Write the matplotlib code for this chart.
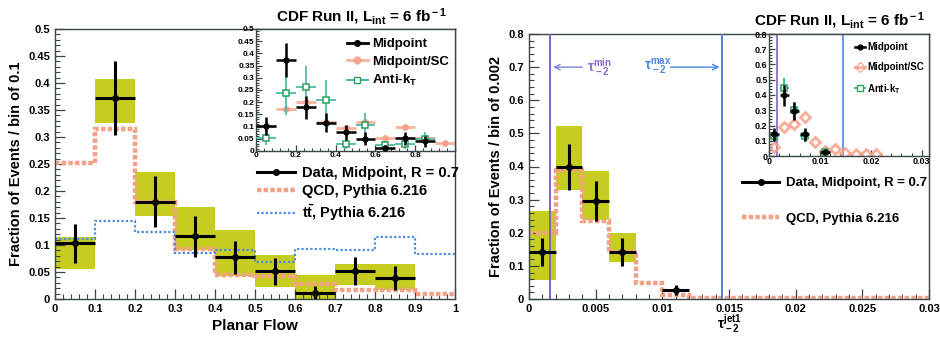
import numpy as np
import matplotlib
matplotlib.use('Agg')
import matplotlib.pyplot as plt
from matplotlib.ticker import MultipleLocator, FixedLocator, FuncFormatter
from matplotlib.lines import Line2D

plt.rcParams['font.family'] = ['Liberation Sans', 'DejaVu Sans']
plt.rcParams['font.weight'] = 'bold'
plt.rcParams['mathtext.fontset'] = 'custom'
plt.rcParams['mathtext.rm'] = 'Liberation Sans:bold'
plt.rcParams['mathtext.it'] = 'Liberation Sans:bold:italic'
plt.rcParams['mathtext.bf'] = 'Liberation Sans:bold'
plt.rcParams['mathtext.default'] = 'rm'

# ---------------- data: planar flow (left) ----------------
pf_edges = [0.0, 0.1, 0.2, 0.3, 0.4, 0.5, 0.6, 0.7, 0.8, 0.9, 1.0]
pf_x = [0.05, 0.15, 0.25, 0.35, 0.45, 0.55, 0.65, 0.75, 0.85]
pf_data = [0.103, 0.372, 0.180, 0.116, 0.077, 0.051, 0.012, 0.052, 0.039]
pf_err = [0.036, 0.069, 0.047, 0.038, 0.031, 0.025, 0.012, 0.026, 0.022]
pf_syst_lo = [0.056, 0.326, 0.154, 0.090, 0.043, 0.022, 0.0, 0.026, 0.017]
pf_syst_hi = [0.114, 0.408, 0.235, 0.170, 0.128, 0.082, 0.045, 0.065, 0.065]
pf_qcd = [0.252, 0.315, 0.180, 0.093, 0.045, 0.043, 0.027, 0.017, 0.017, 0.010]
pf_ttbar = [0.112, 0.145, 0.124, 0.085, 0.090, 0.068, 0.093, 0.091, 0.115, 0.083]

# inset (left)
pfi_sc_x = [0.05, 0.15, 0.25, 0.35, 0.45, 0.55, 0.65, 0.75, 0.85, 0.95]
pfi_sc = [0.103, 0.172, 0.200, 0.120, 0.096, 0.117, 0.055, 0.100, 0.055, 0.034]
pfi_akt = [0.055, 0.237, 0.264, 0.209, 0.027, 0.107, 0.025, 0.027, 0.051]
pfi_akt_err = [0.030, 0.090, 0.085, 0.080, 0.020, 0.050, 0.015, 0.020, 0.025]

# ---------------- data: tau_-2 (right) ----------------
tau_edges = [0.0, 0.002, 0.004, 0.006, 0.008, 0.010, 0.012, 0.014, 0.016,
             0.018, 0.020, 0.022, 0.024, 0.026, 0.028, 0.030]
tau_x = [0.001, 0.003, 0.005, 0.007, 0.011]
tau_data = [0.142, 0.398, 0.296, 0.142, 0.027]
tau_err = [0.043, 0.070, 0.060, 0.043, 0.015]
tau_syst_x = [0.001, 0.003, 0.005, 0.007]
tau_syst_lo = [0.057, 0.329, 0.239, 0.113]
tau_syst_hi = [0.267, 0.523, 0.385, 0.198]
tau_qcd = [0.198, 0.390, 0.234, 0.142, 0.049, 0.012, 0.003, 0.003,
           0.003, 0.003, 0.003, 0.003, 0.003, 0.003, 0.003]
tau_min = 0.0016
tau_max = 0.0145

# inset (right)
ti_akt = [0.130, 0.444, 0.300, 0.130, 0.025]
ti_akt_err = [0.040, 0.067, 0.055, 0.040, 0.012]
ti_sc_x = [0.001, 0.003, 0.005, 0.007, 0.009, 0.011, 0.013, 0.015, 0.017, 0.019, 0.021]
ti_sc = [0.062, 0.190, 0.210, 0.255, 0.093, 0.033, 0.044, 0.018, 0.011, 0.011, 0.011]

# ---------------- styles ----------------
YEL = '#c6cd1f'
SALMON = '#f5a088'
BLUE_DOT = '#4a8be0'
FRAME = '#3a4646'
GREEN = '#2aa05a'
PURPLE = '#7a62c8'
BLUE = '#4a86e0'
fmt_g = FuncFormatter(lambda v, p: '%g' % round(v, 6))

fig = plt.figure(figsize=(9.4, 3.38), dpi=100)


def style_axes(ax, fs, major_len=7, minor_len=3.5):
    for s in ax.spines.values():
        s.set_color(FRAME)
        s.set_linewidth(1.0)
    ax.tick_params(which='both', direction='in', top=False, right=False,
                   colors=FRAME, labelcolor='black', labelsize=fs)
    ax.tick_params(which='major', length=major_len, width=0.9)
    ax.tick_params(which='minor', length=minor_len, width=0.8)
    for lab in ax.get_xticklabels() + ax.get_yticklabels():
        lab.set_fontweight('bold')


# ================= LEFT =================
axL = fig.add_axes([55/940, 39/338, 400/940, 270/338])
axL.bar(pf_x, np.array(pf_syst_hi) - np.array(pf_syst_lo), bottom=pf_syst_lo,
        width=0.1, color=YEL, edgecolor='none', zorder=1)
axL.stairs(pf_qcd, pf_edges, color=SALMON, lw=3.2,
           linestyle=(0, (1.0, 0.5)), zorder=2, baseline=None)
axL.stairs(pf_ttbar, pf_edges, color=BLUE_DOT, lw=1.6,
           linestyle=(0, (1.0, 1.0)), zorder=2, baseline=None)
axL.errorbar(pf_x, pf_data, xerr=0.05, yerr=pf_err, fmt='o', color='black',
             ms=4, elinewidth=2.2, capsize=0, zorder=4)
axL.set_xlim(0, 1)
axL.set_ylim(0, 0.5)
axL.xaxis.set_major_locator(MultipleLocator(0.1))
axL.xaxis.set_minor_locator(MultipleLocator(0.02))
axL.yaxis.set_major_locator(MultipleLocator(0.05))
axL.yaxis.set_minor_locator(MultipleLocator(0.01))
axL.xaxis.set_major_formatter(fmt_g)
axL.yaxis.set_major_formatter(fmt_g)
style_axes(axL, 8)
axL.set_xlabel('Planar Flow', fontsize=11, fontweight='bold', labelpad=4)
axL.set_ylabel('Fraction of Events / bin of 0.1', fontsize=10.5, fontweight='bold', labelpad=4)

legL_handles = [Line2D([], [], color='black', lw=2.2, marker='o', ms=4),
                Line2D([], [], color=SALMON, lw=3.2, linestyle=(0, (1.0, 0.5))),
                Line2D([], [], color=BLUE_DOT, lw=1.6, linestyle=(0, (1.0, 1.0)))]
axL.legend(legL_handles, ['Data, Midpoint, R = 0.7', 'QCD, Pythia 6.216',
                          r'$t\bar{t}$, Pythia 6.216'],
           loc='upper left', bbox_to_anchor=(0.49, 0.515), frameon=False,
           prop={'size': 10.5, 'weight': 'bold'}, handlelength=2.6,
           handletextpad=0.5, labelspacing=0.32, borderaxespad=0)

fig.text(362/940, 1 - 17/338, r'CDF Run II, L$_{\rm int}$ = 6 fb$^{\rm -1}$',
         ha='center', va='center', fontsize=11, fontweight='bold')

# inset left
axLi = fig.add_axes([256/940, 1 - 151/338, 199/940, 122/338])
axLi.errorbar(pfi_sc_x, pfi_sc, xerr=0.05, yerr=0.008, fmt='o', color=SALMON,
              mfc=SALMON, ms=4, elinewidth=2.0, capsize=0, alpha=0.8, zorder=2)
axLi.errorbar(pf_x, pfi_akt, xerr=0.05, yerr=pfi_akt_err, fmt='s', color='#3cb8a8',
              mec=GREEN, mfc='white', ms=4.5, mew=1.1, elinewidth=1.2, capsize=0, zorder=3)
axLi.errorbar(pf_x, pf_data, xerr=0.05, yerr=pf_err, fmt='o', color='black',
              ms=3.5, elinewidth=1.8, capsize=0, zorder=4)
axLi.set_xlim(0, 1)
axLi.set_ylim(0, 0.5)
axLi.xaxis.set_major_locator(FixedLocator([0, 0.2, 0.4, 0.6, 0.8]))
axLi.xaxis.set_minor_locator(MultipleLocator(0.04))
axLi.yaxis.set_major_locator(MultipleLocator(0.05))
axLi.yaxis.set_minor_locator(MultipleLocator(0.01))
axLi.xaxis.set_major_formatter(fmt_g)
axLi.yaxis.set_major_formatter(fmt_g)
style_axes(axLi, 6, major_len=4, minor_len=2)
axLi.tick_params(axis='x', pad=1)
axLi.tick_params(axis='y', pad=1)
hLi = [Line2D([], [], color='black', lw=2.0, marker='o', ms=4),
       Line2D([], [], color=SALMON, lw=2.0, marker='o', ms=5, alpha=0.8),
       Line2D([], [], color='#3cb8a8', lw=1.4, marker='s', ms=5, mec=GREEN, mfc='white')]
axLi.legend(hLi, ['Midpoint', 'Midpoint/SC', r'Anti-k$_{\rm T}$'],
            loc='upper left', bbox_to_anchor=(0.41, 1.0), frameon=False,
            prop={'size': 9.5, 'weight': 'bold'}, handlelength=1.6,
            handletextpad=0.3, labelspacing=0.4, borderaxespad=0.3)

# ================= RIGHT =================
axR = fig.add_axes([529/940, 39/338, 400/940, 265/338])
axR.bar(tau_syst_x, np.array(tau_syst_hi) - np.array(tau_syst_lo), bottom=tau_syst_lo,
        width=0.002, color=YEL, edgecolor='none', zorder=1)
axR.stairs(tau_qcd, tau_edges, color=SALMON, lw=3.2,
           linestyle=(0, (1.0, 0.5)), zorder=2, baseline=None)
axR.axvline(tau_min, color=PURPLE, lw=1.4, zorder=3)
axR.axvline(tau_max, color=BLUE, lw=1.4, zorder=3)
axR.errorbar(tau_x, tau_data, xerr=0.001, yerr=tau_err, fmt='o', color='black',
             ms=4, elinewidth=2.2, capsize=0, zorder=4)
axR.annotate('', xy=(tau_min, 0.70), xytext=(0.0042, 0.70),
             arrowprops=dict(arrowstyle='->', color='#7f86d8', lw=1.0))
axR.annotate('', xy=(tau_max, 0.70), xytext=(0.0104, 0.70),
             arrowprops=dict(arrowstyle='->', color=BLUE, lw=1.0))
axR.text(0.0053, 0.70, r'$\tau^{\rm min}_{\rm -2}$', color='#8a6ad0', fontsize=10,
         ha='center', va='center')
axR.text(0.0097, 0.70, r'$\tau^{\rm max}_{\rm -2}$', color=BLUE, fontsize=10,
         ha='center', va='center')
axR.set_xlim(0, 0.03)
axR.set_ylim(0, 0.8)
axR.xaxis.set_major_locator(MultipleLocator(0.005))
axR.xaxis.set_minor_locator(MultipleLocator(0.001))
axR.yaxis.set_major_locator(MultipleLocator(0.1))
axR.yaxis.set_minor_locator(MultipleLocator(0.02))
axR.xaxis.set_major_formatter(fmt_g)
axR.yaxis.set_major_formatter(fmt_g)
style_axes(axR, 8)
axR.set_xlabel(r'$\tau^{\rm jet1}_{\rm -2}$', fontsize=10, labelpad=-1)
axR.set_ylabel('Fraction of Events / bin of 0.002', fontsize=10.5, fontweight='bold', labelpad=4)

legR_handles = [Line2D([], [], color='black', lw=2.2, marker='o', ms=4),
                Line2D([], [], color=SALMON, lw=3.2, linestyle=(0, (1.0, 0.5)))]
axR.legend(legR_handles, ['Data, Midpoint, R = 0.7', 'QCD, Pythia 6.216'],
           loc='upper left', bbox_to_anchor=(0.52, 0.48), frameon=False,
           prop={'size': 9.5, 'weight': 'bold'}, handlelength=2.8,
           handletextpad=0.5, labelspacing=1.75, borderaxespad=0)

fig.text(840/940, 1 - 21/338, r'CDF Run II, L$_{\rm int}$ = 6 fb$^{\rm -1}$',
         ha='center', va='center', fontsize=11, fontweight='bold')

# inset right
axRi = fig.add_axes([769/940, 1 - 156/338, 160/940, 122/338])
axRi.axvline(tau_min, color=PURPLE, lw=1.2, zorder=1)
axRi.axvline(tau_max, color=BLUE, lw=1.2, zorder=1)
axRi.plot(ti_sc_x, ti_sc, linestyle='none', marker='D', ms=5, mfc='none',
          mec=SALMON, mew=2.0, alpha=0.85, zorder=2)
axRi.errorbar(tau_x, ti_akt, xerr=0.0009, yerr=ti_akt_err, fmt='s', color='#3cb8a8',
              mec=GREEN, mfc='white', ms=4.5, mew=1.1, elinewidth=1.4, capsize=0, zorder=3)
axRi.errorbar(tau_x, tau_data, xerr=0.0009, yerr=tau_err, fmt='o', color='black',
              ms=3.5, elinewidth=1.8, capsize=0, zorder=4)
axRi.set_xlim(0, 0.0314)
axRi.set_ylim(0, 0.8)
axRi.xaxis.set_major_locator(FixedLocator([0, 0.01, 0.02, 0.03]))
axRi.xaxis.set_minor_locator(MultipleLocator(0.002))
axRi.yaxis.set_major_locator(MultipleLocator(0.1))
axRi.yaxis.set_minor_locator(MultipleLocator(0.02))
axRi.xaxis.set_major_formatter(fmt_g)
axRi.yaxis.set_major_formatter(fmt_g)
style_axes(axRi, 6.5, major_len=4, minor_len=2)
axRi.tick_params(axis='x', pad=1)
axRi.tick_params(axis='y', pad=1)
hRi = [Line2D([], [], color='black', lw=1.8, marker='o', ms=3.5),
       Line2D([], [], color=SALMON, lw=2.0, marker='D', ms=5, mfc='none', alpha=0.85),
       Line2D([], [], color='#3cb8a8', lw=1.4, marker='s', ms=4.5, mec=GREEN, mfc='white')]
axRi.legend(hRi, ['Midpoint', 'Midpoint/SC', r'Anti-k$_{\rm T}$'],
            loc='upper left', bbox_to_anchor=(0.5, 0.98), frameon=False,
            prop={'size': 7, 'weight': 'bold'}, handlelength=1.0,
            handletextpad=0.3, labelspacing=1.0, borderaxespad=0.2)

fig.savefig('out.png', dpi=100)
